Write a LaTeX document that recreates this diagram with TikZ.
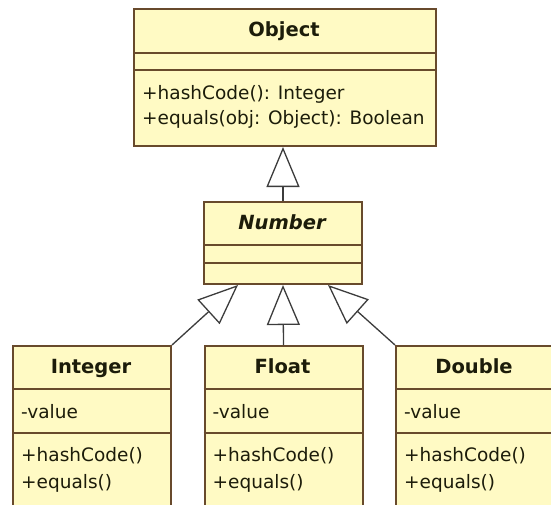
\documentclass[tikz,border=0pt]{standalone}
\usepackage{fontspec}
\setmainfont{DejaVu Sans}
\usetikzlibrary{arrows.meta}
\definecolor{boxfill}{RGB}{255,250,196}
\definecolor{boxline}{RGB}{104,74,44}
\definecolor{txt}{RGB}{28,28,10}
\definecolor{conn}{RGB}{60,60,60}
\tikzset{
  umlbox/.style={draw=boxline, fill=boxfill, line width=2pt, rectangle, inner sep=0pt, anchor=north west},
  sepline/.style={draw=boxline, line width=2pt},
  titletext/.style={text=txt, font=\fontsize{19.5}{22}\selectfont\bfseries, inner sep=0pt, text height=0.75em, text depth=0.22em},
  ittext/.style={text=txt, font=\fontsize{19.5}{22}\selectfont\bfseries\itshape, inner sep=0pt, text height=0.75em, text depth=0.22em},
  membertext/.style={text=txt, font=\fontsize{18.5}{22}\selectfont, inner sep=0pt, anchor=west, text height=0.75em, text depth=0.22em},
  inherit/.style={draw=conn, line width=1.3pt, -{Triangle[fill=white, length=40pt, width=33pt, line width=1.3pt]}}
}
\begin{document}
\begin{tikzpicture}[x=1pt, y=-1pt]
\useasboundingbox (0,0) rectangle (551,504);
\clip (0,0) rectangle (551,504);
% Object
\node[umlbox, minimum width=302pt, minimum height=137pt] (obj) at (133,8) {};
\draw[sepline] ([yshift=-45pt]obj.north west) -- ([yshift=-45pt]obj.north east);
\draw[sepline] ([yshift=-62pt]obj.north west) -- ([yshift=-62pt]obj.north east);
\node[titletext] (objt) at (284,34) {Object};
\node[membertext] (objm1) at (142,97) {+hashCode(): Integer};
\node[membertext] (objm2) at (142,122) {+equals(obj: Object): Boolean};
% Number
\node[umlbox, minimum width=158pt, minimum height=82pt] (num) at (203,201) {};
\draw[sepline] ([yshift=-44pt]num.north west) -- ([yshift=-44pt]num.north east);
\draw[sepline] ([yshift=-62pt]num.north west) -- ([yshift=-62pt]num.north east);
\node[ittext] (numt) at (282,227) {Number};
% Integer
\node[umlbox, minimum width=158pt, minimum height=170pt] (int) at (12,345) {};
\draw[sepline] ([yshift=-44pt]int.north west) -- ([yshift=-44pt]int.north east);
\draw[sepline] ([yshift=-88pt]int.north west) -- ([yshift=-88pt]int.north east);
\node[titletext] (intt) at (91,371) {Integer};
\node[membertext] (inta) at (21,416) {-value};
\node[membertext] (intm1) at (21,459) {+hashCode()};
\node[membertext] (intm2) at (21,486) {+equals()};
% Float
\node[umlbox, minimum width=158pt, minimum height=170pt] (flt) at (203.5,345) {};
\draw[sepline] ([yshift=-44pt]flt.north west) -- ([yshift=-44pt]flt.north east);
\draw[sepline] ([yshift=-88pt]flt.north west) -- ([yshift=-88pt]flt.north east);
\node[titletext] (fltt) at (282.5,371) {Float};
\node[membertext] (flta) at (212.5,416) {-value};
\node[membertext] (fltm1) at (212.5,459) {+hashCode()};
\node[membertext] (fltm2) at (212.5,486) {+equals()};
% Double
\node[umlbox, minimum width=158pt, minimum height=170pt] (dbl) at (395,345) {};
\draw[sepline] ([yshift=-44pt]dbl.north west) -- ([yshift=-44pt]dbl.north east);
\draw[sepline] ([yshift=-88pt]dbl.north west) -- ([yshift=-88pt]dbl.north east);
\node[titletext] (dblt) at (474,371) {Double};
\node[membertext] (dbla) at (404,416) {-value};
\node[membertext] (dblm1) at (404,459) {+hashCode()};
\node[membertext] (dblm2) at (404,486) {+equals()};
% connectors
\coordinate (objb) at (num.north |- obj.south);
\coordinate (numL) at ([xshift=-45pt]num.south);
\coordinate (numR) at ([xshift=45pt]num.south);
\draw[inherit] (num.north) -- (objb);
\draw[inherit] (int.north east) -- (numL);
\draw[inherit] (flt.north) -- (num.south);
\draw[inherit] (dbl.north west) -- (numR);
\end{tikzpicture}
\end{document}
